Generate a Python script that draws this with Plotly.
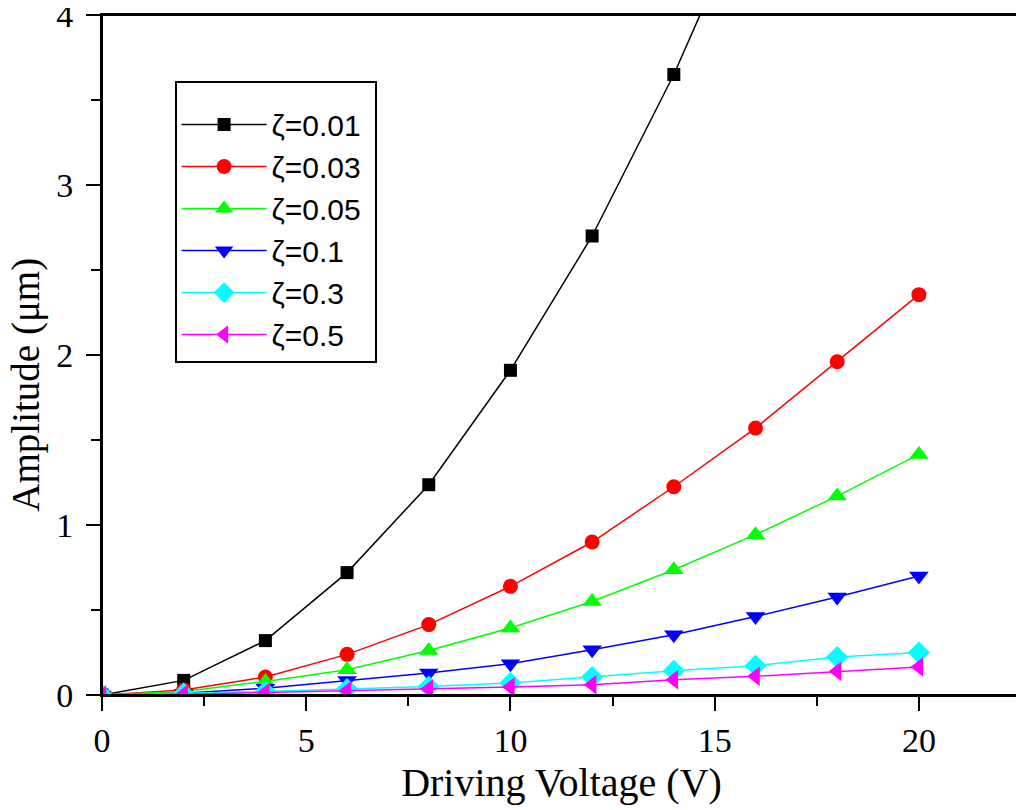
import plotly.graph_objects as go

# driving voltage (V)
voltage = [0, 2, 4, 6, 8, 10, 12, 14, 16, 18, 20]

# amplitude (um) per damping ratio
amp_001 = [0, 0.086, 0.32, 0.72, 1.237, 1.91, 2.70, 3.65, 4.74, 6.0, 7.4]
amp_003 = [0, 0.03, 0.106, 0.239, 0.414, 0.639, 0.90, 1.225, 1.57, 1.96, 2.355]
amp_005 = [0, 0.02, 0.08, 0.149, 0.262, 0.394, 0.55, 0.737, 0.943, 1.17, 1.415]
amp_01 = [0, 0.01, 0.04, 0.085, 0.129, 0.184, 0.266, 0.355, 0.462, 0.576, 0.70]
amp_03 = [0, 0.008, 0.02, 0.035, 0.05, 0.07, 0.106, 0.143, 0.172, 0.223, 0.25]
amp_05 = [0, 0.005, 0.015, 0.025, 0.035, 0.047, 0.06, 0.09, 0.11, 0.139, 0.165]

labels = ["ζ=0.01", "ζ=0.03", "ζ=0.05", "ζ=0.1", "ζ=0.3", "ζ=0.5"]
series = [amp_001, amp_003, amp_005, amp_01, amp_03, amp_05]
colors = ["#000000", "#ff0000", "#00ff00", "#0000ff", "#00ffff", "#ff00ff"]
symbols = ["square", "circle", "triangle-up", "triangle-down", "diamond", "triangle-left"]
sizes = [13, 15, 17, 17, 17, 17]

fig = go.Figure()
for name, ys, col, sym, sz in zip(labels, series, colors, symbols, sizes):
    fig.add_trace(go.Scatter(
        x=voltage, y=ys, name=name + "\u00a0", mode="lines+markers",
        line=dict(color=col, width=1.5),
        marker=dict(symbol=sym, size=sz, color=col),
    ))

serif = "Liberation Serif, Times New Roman, serif"

axis_common = dict(
    showline=True, linecolor="black", linewidth=2, mirror=True,
    ticks="outside", ticklen=14, tickwidth=2, tickcolor="black",
    showgrid=False, zeroline=False, automargin=False,
    ticklabeloverflow="allow",
    tickfont=dict(family=serif, size=34, color="black"),
)

fig.update_xaxes(
    range=[0, 22.5], dtick=5, tick0=0,
    minor=dict(dtick=2.5, ticks="outside", ticklen=9, tickwidth=2, tickcolor="black"),
    title=dict(text="Driving Voltage (V)", font=dict(family=serif, size=40, color="black"), standoff=10),
    **axis_common,
)
fig.update_yaxes(
    range=[0, 4], dtick=1, tick0=0,
    minor=dict(dtick=0.5, ticks="outside", ticklen=9, tickwidth=2, tickcolor="black"),
    ticklabelstandoff=6,
    **axis_common,
)

# y title placed a little below the axis centre, as in the original
fig.add_annotation(
    text="Amplitude (μm)", textangle=-90, showarrow=False,
    xref="paper", yref="paper", x=-0.083, y=0.456,
    xanchor="center", yanchor="middle",
    font=dict(family=serif, size=39, color="black"),
)

# frame round the plot area
fig.add_shape(
    type="rect", xref="paper", yref="paper", x0=0, x1=1, y0=0, y1=1,
    line=dict(color="black", width=2), layer="above",
)

# the page puts the plot 8px in from the top-left corner
fig.update_layout(
    width=1016, height=802,
    margin=dict(l=94, r=3, t=7, b=115),
    plot_bgcolor="white", paper_bgcolor="white",
    legend=dict(
        x=0.079, y=0.903, xanchor="left", yanchor="top",
        bordercolor="black", borderwidth=2, bgcolor="white",
        font=dict(family="Liberation Sans, Arial, sans-serif", size=30, color="black"),
        tracegroupgap=0, itemwidth=85,
        title=dict(text="\u00a0", font=dict(size=12)),
    ),
    showlegend=True,
)

fig.write_html("out.html")
